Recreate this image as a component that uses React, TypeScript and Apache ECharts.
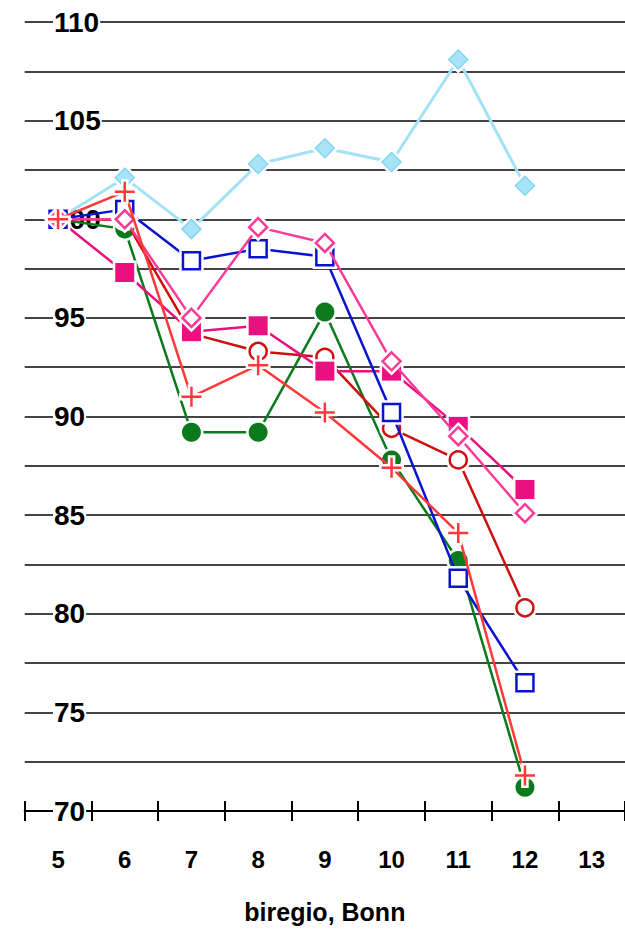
import React, { useEffect, useRef } from "react";
import * as echarts from "echarts";

const categories = ["5", "6", "7", "8", "9", "10", "11", "12", "13"];
const lightBlueDiamond = [100, 102.1, 99.5, 102.8, 103.6, 102.9, 108.1, 101.7];
const greenCircle = [100, 99.5, 89.2, 89.2, 95.3, 87.8, 82.7, 71.2];
const redCircle = [100, 100, 94.2, 93.3, 93.0, 89.4, 87.8, 80.3];
const magentaSquare = [100, 97.3, 94.3, 94.6, 92.3, 92.3, 89.5, 86.3];
const blueSquare = [100, 100.5, 97.9, 98.5, 98.1, 90.2, 81.8, 76.5];
const pinkDiamond = [100, 100.0, 95.0, 99.6, 98.8, 92.8, 89.0, 85.1];
const redPlus = [100, 101.4, 91.0, 92.6, 90.2, 87.4, 84.1, 71.8];

const axisTitle = "biregio, Bonn";
const FONT = "'Liberation Sans', Arial, Helvetica, sans-serif";
const PLUS = "path://M8.75,0h2.5v8.75h8.75v2.5h-8.75v8.75h-2.5v-8.75h-8.75v-2.5h8.75z";

type Spec = {
  data: number[];
  line: string;
  lineWidth: number;
  symbol: string;
  size: number;
  fill: string;
  border: string;
  borderWidth: number;
};

const specs: Spec[] = [
  { data: lightBlueDiamond, line: "#a3e2f6", lineWidth: 3, symbol: "diamond", size: 19, fill: "#a8e4f8", border: "#84d5f1", borderWidth: 1.5 },
  { data: greenCircle, line: "#0b7a1d", lineWidth: 2.5, symbol: "circle", size: 19, fill: "#0b7a1d", border: "#0b7a1d", borderWidth: 0 },
  { data: redCircle, line: "#cf1010", lineWidth: 2.5, symbol: "circle", size: 17, fill: "#ffffff", border: "#cf1010", borderWidth: 2.5 },
  { data: magentaSquare, line: "#e8117f", lineWidth: 2.5, symbol: "rect", size: 19, fill: "#e8117f", border: "#e8117f", borderWidth: 0 },
  { data: blueSquare, line: "#0a14d0", lineWidth: 2.5, symbol: "rect", size: 17, fill: "#ffffff", border: "#0a14d0", borderWidth: 2.5 },
  { data: pinkDiamond, line: "#fb3a98", lineWidth: 2.5, symbol: "diamond", size: 18, fill: "#ffffff", border: "#fb3a98", borderWidth: 2.5 },
  { data: redPlus, line: "#ff3838", lineWidth: 2.5, symbol: PLUS, size: 20, fill: "#ff3838", border: "#ff3838", borderWidth: 0 },
];

export default function App() {
  const ref = useRef<HTMLDivElement>(null);
  useEffect(() => {
    if (!ref.current) return;
    const chart = echarts.init(ref.current, undefined, { renderer: "svg" });
    const series: any[] = [];
    specs.forEach((s, i) => {
      const base = 10 + i * 3;
      series.push({
        type: "line",
        data: s.data,
        symbol: "none",
        z: base,
        lineStyle: { color: s.line, width: s.lineWidth },
        silent: true,
      });
      series.push({
        type: "scatter",
        data: s.data,
        symbol: s.symbol,
        symbolSize: s.size,
        z: base + 1,
        itemStyle: { color: "#ffffff", borderColor: "#ffffff", borderWidth: s.borderWidth + 5, opacity: 1 },
        silent: true,
      });
      series.push({
        type: "scatter",
        data: s.data,
        symbol: s.symbol,
        symbolSize: s.size,
        z: base + 2,
        itemStyle: { color: s.fill, borderColor: s.border, borderWidth: s.borderWidth, opacity: 1 },
        silent: true,
      });
    });
    chart.setOption({
      animation: false,
      grid: { left: 24.7, top: 22, width: 602, height: 791 },
      xAxis: [
        {
          type: "category",
          data: categories,
          boundaryGap: true,
          position: "bottom",
          axisLine: { show: true, onZero: false, lineStyle: { color: "#000", width: 2 } },
          axisTick: { show: true, length: 10, alignWithLabel: false, lineStyle: { color: "#000", width: 2 } },
          axisLabel: { margin: 36, fontSize: 24, fontWeight: "bold", color: "#000", fontFamily: FONT, interval: 0 },
          splitLine: { show: false },
          name: axisTitle,
          nameLocation: "middle",
          nameGap: 88,
          nameTextStyle: { fontSize: 25, fontWeight: "bold", color: "#000", fontFamily: FONT },
        },
        {
          type: "category",
          data: categories,
          boundaryGap: true,
          position: "bottom",
          axisLine: { show: false, onZero: false },
          axisTick: { show: true, inside: true, length: 10, alignWithLabel: false, lineStyle: { color: "#000", width: 2 } },
          axisLabel: { show: false },
          splitLine: { show: false },
        },
      ],
      yAxis: {
        type: "value",
        min: 70,
        max: 110,
        interval: 5,
        axisLine: { show: false },
        axisTick: { show: false },
        minorTick: { show: false, splitNumber: 2 },
        splitLine: { show: true, lineStyle: { color: "#444", width: 2 } },
        minorSplitLine: { show: true, lineStyle: { color: "#444", width: 2 } },
        axisLabel: {
          inside: true,
          margin: 28.3,
          fontSize: 28,
          fontWeight: "bold",
          color: "#000",
          fontFamily: FONT,
          backgroundColor: "#ffffff",
          padding: [0, 1, 5, 1],
        },
      },
      series,
    });
    return () => chart.dispose();
  }, []);
  return (
    <div
      ref={ref}
      style={{ position: "absolute", left: 0, top: 0, width: 625, height: 929 }}
    />
  );
}
